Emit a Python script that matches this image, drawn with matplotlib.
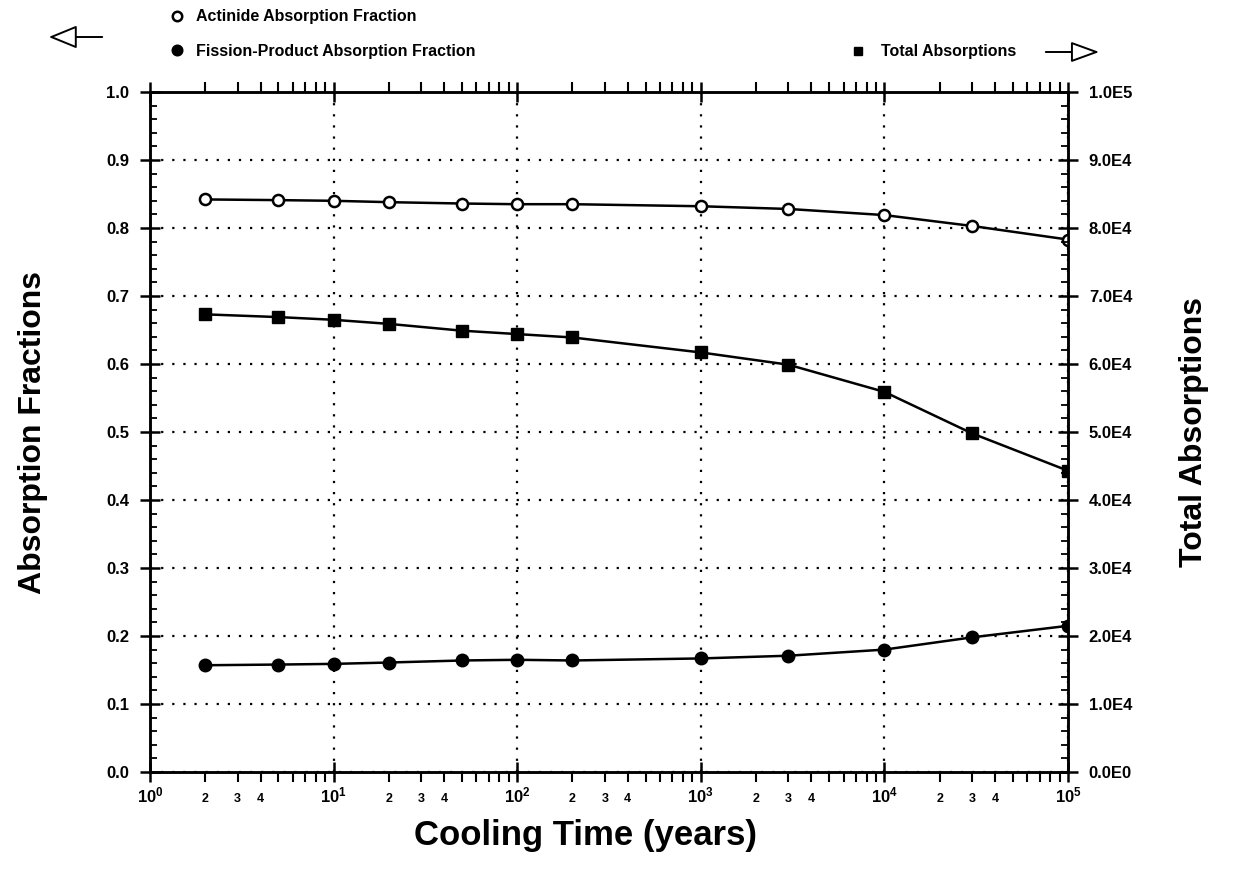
import matplotlib
matplotlib.use("Agg")
import matplotlib.pyplot as plt
from matplotlib.ticker import FixedLocator, FuncFormatter
import numpy as np

# ---- data ----
years = [2, 5, 10, 20, 50, 100, 200, 1000, 3000, 10000, 30000, 100000]
actinide = [0.842, 0.841, 0.840, 0.838, 0.836, 0.835, 0.835, 0.832, 0.828, 0.819, 0.803, 0.783]
fission = [0.157, 0.158, 0.159, 0.161, 0.164, 0.165, 0.164, 0.167, 0.171, 0.180, 0.198, 0.215]
total = [67300, 66900, 66500, 65900, 64900, 64400, 63900, 61700, 59900, 55900, 49800, 44300]

series_labels = ["Actinide Absorption Fraction",
                 "Fission-Product Absorption Fraction",
                 "Total Absorptions"]
x_label = "Cooling Time (years)"
y_label = "Absorption Fractions"
y2_label = "Total Absorptions"

plt.rcParams['font.family'] = ['Liberation Sans', 'DejaVu Sans']
plt.rcParams['font.weight'] = 'bold'
plt.rcParams['mathtext.fontset'] = 'custom'
plt.rcParams['mathtext.rm'] = 'Liberation Sans:bold'
plt.rcParams['mathtext.bf'] = 'Liberation Sans:bold'

fig = plt.figure(figsize=(12.41, 8.86), dpi=100)
ax = fig.add_axes([150/1241, 1-772/886, (1068-150)/1241, (772-92)/886])
ax2 = ax.twinx()

lw = 1.8
l1, = ax.plot(years, actinide, color='black', lw=lw, marker='o', ms=8,
              mfc='white', mec='black', mew=1.8, label=series_labels[0], zorder=5)
l2, = ax.plot(years, fission, color='black', lw=lw, marker='o', ms=9,
              mfc='black', mec='black', label=series_labels[1], zorder=5)
l3, = ax2.plot(years, total, color='black', lw=lw, marker='s', ms=8,
               mfc='black', mec='black', label=series_labels[2], zorder=5)

ax.set_xscale('log')
ax.set_xlim(1, 1e5)
ax.set_ylim(0, 1.0)
ax2.set_ylim(0, 1e5)

# y ticks
ax.set_yticks(np.arange(0, 1.01, 0.1))
ax.set_yticks(np.arange(0, 1.001, 0.02), minor=True)
ax.yaxis.set_major_formatter(FuncFormatter(lambda v, p: f"{v:.1f}"))
ax2.set_yticks(np.arange(0, 100001, 10000))
ax2.set_yticks(np.arange(0, 100001, 2000), minor=True)

def sci(v, p):
    if v == 0:
        return "0.0E0"
    e = int(np.floor(np.log10(v)))
    return f"{v/10**e:.1f}E{e}"
ax2.yaxis.set_major_formatter(FuncFormatter(sci))

# x ticks
decades = [10**k for k in range(0, 6)]
ax.xaxis.set_major_locator(FixedLocator(decades))
ax.xaxis.set_major_formatter(FuncFormatter(lambda v, p: r"$\mathregular{10^{%d}}$" % int(round(np.log10(v)))))
minors = [m * 10**k for k in range(0, 5) for m in range(2, 10)]
ax.xaxis.set_minor_locator(FixedLocator(minors))
def minfmt(v, p):
    m = v / 10**np.floor(np.log10(v) + 1e-9)
    mi = int(round(m))
    return str(mi) if mi in (2, 3, 4) else ""
ax.xaxis.set_minor_formatter(FuncFormatter(minfmt))

ax.tick_params(axis='x', which='major', direction='inout', length=14, width=1.8,
               top=True, labelsize=12, pad=3)
ax.tick_params(axis='x', which='minor', direction='out', length=7, width=1.5,
               top=True, labelsize=9, pad=8)
ax.tick_params(axis='y', which='major', direction='inout', length=14, width=1.8,
               labelsize=12, pad=8)
ax.tick_params(axis='y', which='minor', direction='in', length=5, width=1.3)
ax2.tick_params(axis='y', which='major', direction='inout', length=14, width=1.8,
                labelsize=12, pad=8)
ax2.tick_params(axis='y', which='minor', direction='in', length=5, width=1.3)

for a in (ax, ax2):
    for s in a.spines.values():
        s.set_linewidth(1.8)

ax.grid(which='major', axis='both', linestyle=(0, (1, 4)), linewidth=1.6, color='black')

ax.set_xlabel(x_label, fontsize=25, fontweight='bold')
ax.xaxis.set_label_coords((585-150)/918, -(835-772)/680, transform=ax.transAxes)
ax.xaxis.label.set_verticalalignment('center')
ax.set_ylabel(y_label, fontsize=23, labelpad=42, fontweight='bold')
ax2.set_ylabel(y2_label, fontsize=23, labelpad=34, fontweight='bold')

# legends above the plot
leg1 = fig.legend(handles=[l1, l2], loc='upper left', bbox_to_anchor=(158/1241, 1 + 5/886),
                  frameon=False, handlelength=0.6, handletextpad=0.9, labelspacing=1.2,
                  prop={'weight': 'bold', 'size': 11.5}, markerscale=0.85)
leg2 = fig.legend(handles=[l3], loc='upper left', bbox_to_anchor=(839/1241, 1 - 30/886),
                  frameon=False, handlelength=0.6, handletextpad=1.1,
                  prop={'weight': 'bold', 'size': 11.5}, markerscale=0.7)
for lg in (leg1, leg2):
    for h in lg.legend_handles:
        h.set_linestyle('none')

# arrows indicating which axis each group belongs to
fig.add_artist(matplotlib.patches.FancyArrowPatch(
    (105/1241, 1-37/886), (46/1241, 1-37/886), transform=fig.transFigure,
    arrowstyle='-|>,head_length=1.1,head_width=0.45', mutation_scale=16,
    fc='white', ec='black', lw=1.4))
fig.add_artist(matplotlib.patches.FancyArrowPatch(
    (1043/1241, 1-52/886), (1102/1241, 1-52/886), transform=fig.transFigure,
    arrowstyle='-|>,head_length=1.1,head_width=0.4', mutation_scale=16,
    fc='white', ec='black', lw=1.4))

fig.savefig("out.png", dpi=100)
